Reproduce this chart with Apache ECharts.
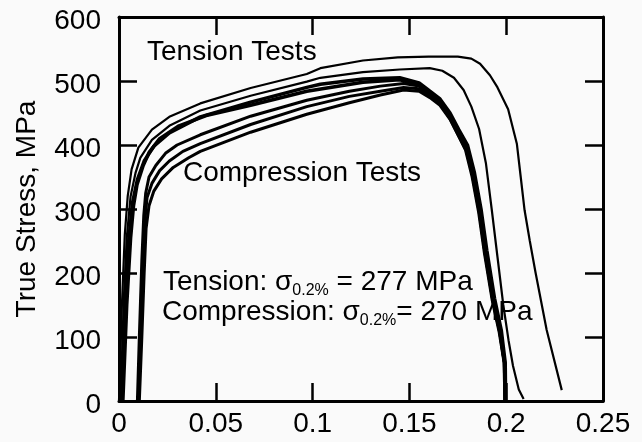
<!DOCTYPE html>
<html>
<head>
<meta charset="utf-8">
<script src="https://cdn.jsdelivr.net/npm/echarts@6/dist/echarts.min.js"></script>
<style>
html,body{margin:0;padding:0;background:#fafafa;}
#chart{width:642px;height:442px;}
</style>
</head>
<body>
<div id="chart"></div>
<script>
// Axis ticks
const xTickLabels = ['0', '0.05', '0.1', '0.15', '0.2', '0.25'];
const yTickLabels = ['0', '100', '200', '300', '400', '500', '600'];

// Tension tests (upper band): [true strain, true stress MPa]
const tension1 = [[0,0],[0.0015,150],[0.003,260],[0.0045,320],[0.0065,362],[0.01,396],[0.017,424],[0.026,444],[0.042,465],[0.068,489],[0.097,511],[0.104,520],[0.126,532],[0.144,537],[0.16,538],[0.175,538],[0.182,535],[0.1865,527],[0.1916,509],[0.1955,490],[0.201,456],[0.2055,402],[0.2075,350],[0.2095,298],[0.2122,250],[0.2152,200],[0.2209,111],[0.2287,17]];
const tension2 = [[0.0008,0],[0.0025,160],[0.004,255],[0.006,320],[0.0085,356],[0.011,380],[0.017,408],[0.026,430],[0.042,454],[0.068,477],[0.097,499],[0.104,505],[0.126,514],[0.145,518],[0.1605,520],[0.167,516],[0.173,505],[0.178,486],[0.182,460],[0.186,425],[0.1895,372],[0.1925,300],[0.1955,225],[0.1985,150],[0.2012,95],[0.2035,55],[0.2065,18],[0.209,3]];
const tension3 = [[0.0015,0],[0.0035,170],[0.005,250],[0.007,310],[0.0095,346],[0.013,375],[0.018,398],[0.026,419],[0.042,444],[0.068,467],[0.097,490],[0.104,495],[0.126,503],[0.145,505],[0.155,497],[0.1606,484],[0.1658,472],[0.171,450],[0.1755,424],[0.18,400],[0.1835,358],[0.187,300],[0.19,235],[0.194,160],[0.1975,110],[0.1995,60],[0.1997,0]];
const tension4 = [[0.002,0],[0.004,150],[0.006,255],[0.0075,305],[0.0093,338],[0.0125,368],[0.0155,388],[0.021,410],[0.031,430],[0.045,446],[0.068,462],[0.097,484],[0.126,498],[0.145,502],[0.155,494],[0.1606,480],[0.1658,467],[0.171,444],[0.1755,419],[0.1796,396],[0.183,356],[0.1862,298],[0.1892,232],[0.1932,158],[0.1968,108],[0.1992,60],[0.1995,0]];

// Compression tests (lower band)
const compression1 = [[0.0095,0],[0.0105,100],[0.0118,220],[0.0128,290],[0.0138,325],[0.0155,350],[0.019,368],[0.024,387],[0.03,400],[0.042,416],[0.068,445],[0.097,470],[0.119,484],[0.135,492],[0.147,496],[0.155,492],[0.1606,478],[0.1658,465],[0.171,441],[0.1752,416],[0.1792,393],[0.1826,352],[0.186,296],[0.189,232],[0.193,158],[0.1966,108],[0.199,60],[0.1994,0]];
const compression2 = [[0.01,0],[0.0112,100],[0.0124,200],[0.0133,280],[0.0145,318],[0.017,340],[0.021,360],[0.026,375],[0.033,390],[0.042,402],[0.068,432],[0.097,460],[0.119,476],[0.135,484],[0.147,490],[0.155,488],[0.1606,476],[0.1658,464],[0.171,443],[0.1755,418],[0.1794,395],[0.1828,355],[0.1863,298],[0.1893,234],[0.1933,159],[0.1968,109],[0.1991,60],[0.1995,0]];
const compression3 = [[0.0105,0],[0.0118,100],[0.013,200],[0.014,270],[0.0155,305],[0.018,328],[0.022,347],[0.028,365],[0.036,380],[0.042,390],[0.068,420],[0.097,448],[0.119,466],[0.135,478],[0.147,486],[0.155,484],[0.1606,474],[0.1658,462],[0.171,440],[0.1752,415],[0.179,392],[0.1824,350],[0.1858,294],[0.1888,230],[0.1928,157],[0.1964,107],[0.1989,60],[0.1993,0]];

const curves = [
  {name: 'Tension 1', data: tension1, width: 2.2},
  {name: 'Tension 2', data: tension2, width: 2.2},
  {name: 'Tension 3', data: tension3, width: 3.5},
  {name: 'Tension 4', data: tension4, width: 3.5},
  {name: 'Compression 1', data: compression1, width: 3},
  {name: 'Compression 2', data: compression2, width: 3},
  {name: 'Compression 3', data: compression3, width: 3}
];

const FONT = '"Liberation Sans", Arial, Helvetica, sans-serif';
const axisLine = () => ({show: true, onZero: false, lineStyle: {color: '#000', width: 3}});
const axisTick = () => ({show: true, inside: true, length: 18, lineStyle: {color: '#000', width: 2.5}});

const chart = echarts.init(document.getElementById('chart'), null, {renderer: 'canvas'});
chart.setOption({
  backgroundColor: '#fafafa',
  animation: false,
  grid: {left: 119, right: 39, top: 17, bottom: 41, containLabel: false},
  xAxis: [
    {type: 'value', min: 0, max: 0.25, interval: 0.05, position: 'bottom',
     axisLine: axisLine(), axisTick: axisTick(), splitLine: {show: false},
     axisLabel: {fontSize: 28, fontFamily: FONT, color: '#000', margin: 9,
       formatter: (v, i) => xTickLabels[i]}},
    {type: 'value', min: 0, max: 0.25, interval: 0.05, position: 'top',
     axisLine: axisLine(), axisTick: axisTick(), splitLine: {show: false}, axisLabel: {show: false}}
  ],
  yAxis: [
    {type: 'value', min: 0, max: 600, interval: 100, position: 'left',
     name: 'True Stress, MPa', nameLocation: 'middle', nameGap: 78,
     nameTextStyle: {fontSize: 28, fontFamily: FONT, color: '#000'},
     axisLine: axisLine(), axisTick: axisTick(), splitLine: {show: false},
     axisLabel: {fontSize: 28, fontFamily: FONT, color: '#000', margin: 18,
       formatter: (v, i) => '{a|' + yTickLabels[i] + '}',
       rich: {a: {fontSize: 28, fontFamily: FONT, color: '#000', padding: [8, 0, 0, 0]}}}},
    {type: 'value', min: 0, max: 600, interval: 100, position: 'right',
     axisLine: axisLine(), axisTick: axisTick(), splitLine: {show: false}, axisLabel: {show: false}}
  ],
  series: curves.map(c => ({
    name: c.name, type: 'line', data: c.data, showSymbol: false, symbol: 'none',
    lineStyle: {color: '#000', width: c.width}, clip: true, z: 3
  })),
  graphic: [
    {type: 'text', x: 147, y: 52, z: 10,
     style: {text: 'Tension Tests', fontSize: 28, fontFamily: FONT, fill: '#000', verticalAlign: 'middle'}},
    {type: 'text', x: 183, y: 173, z: 10,
     style: {text: 'Compression Tests', fontSize: 28, fontFamily: FONT, fill: '#000', verticalAlign: 'middle'}},
    {type: 'text', x: 163, y: 282, z: 10,
     style: {text: '{n|Tension: σ}{s|0.2%}{n| = 277 MPa}', fontFamily: FONT, fill: '#000', verticalAlign: 'middle',
       rich: {n: {fontSize: 28, fontFamily: FONT, fill: '#000', verticalAlign: 'bottom'},
              s: {fontSize: 16, fontFamily: FONT, fill: '#000', verticalAlign: 'bottom', padding: [0,0,-3,0]}}}},
    {type: 'text', x: 162, y: 312, z: 10,
     style: {text: '{n|Compression: σ}{s|0.2%}{n|= 270 MPa}', fontFamily: FONT, fill: '#000', verticalAlign: 'middle',
       rich: {n: {fontSize: 28, fontFamily: FONT, fill: '#000', verticalAlign: 'bottom'},
              s: {fontSize: 16, fontFamily: FONT, fill: '#000', verticalAlign: 'bottom', padding: [0,0,-3,0]}}}}
  ]
});
</script>
</body>
</html>
